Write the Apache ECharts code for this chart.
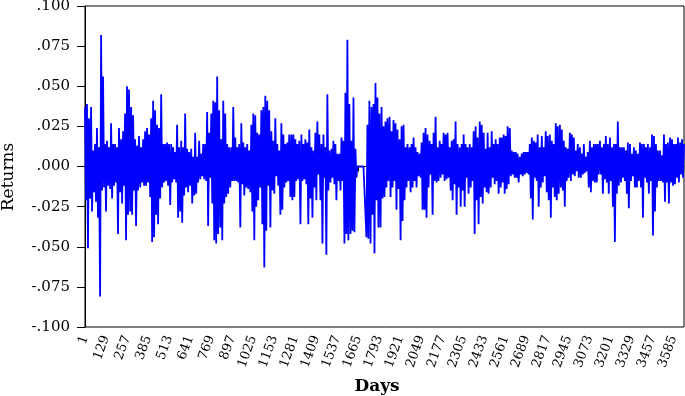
<!DOCTYPE html>
<html>
<head>
<meta charset="utf-8">
<script src="https://cdn.jsdelivr.net/npm/echarts@6/dist/echarts.min.js"></script>
<style>
  html, body { margin: 0; padding: 0; background: #fff; }
  #chart { width: 685px; height: 396px; }
</style>
</head>
<body>
<div id="chart"></div>
<script>
// Daily returns (one sample per pixel column, ~6 days apart)
const returns = [
  .037,-.021,.039,-.051,.030,-.020,.037,-.028,.010,-.016,
  .014,-.022,.024,-.032,.012,-.081,.082,-.015,.056,-.013,
  .014,-.028,.016,-.012,.012,-.014,.027,-.020,.014,-.012,
  .014,-.010,.012,-.042,.024,-.016,.017,-.023,.022,-.012,
  .033,-.046,.050,-.030,.048,-.028,.037,-.030,.032,-.015,
  .017,-.037,.013,-.015,.019,-.013,.012,-.010,.017,-.012,
  .022,-.012,.024,-.010,.020,-.019,.030,-.047,.041,-.044,
  .035,-.030,.026,-.036,.024,-.020,.045,-.013,.014,-.010,
  .014,-.009,.015,-.012,.014,-.024,.014,-.010,.012,-.008,
  .009,-.010,.026,-.032,.012,-.028,.016,-.035,.012,-.018,
  .033,-.013,.011,-.016,.009,-.012,.011,-.023,.006,-.018,
  .021,-.017,.006,-.010,.016,-.008,.008,-.006,.014,-.008,
  .014,-.009,.034,-.037,.021,-.007,.033,-.023,.041,-.046,
  .040,-.048,.056,-.042,.035,-.038,.017,-.046,.041,-.023,
  .033,-.019,.014,-.017,.012,-.013,.012,-.009,.037,-.009,
  .018,-.009,.012,-.010,.014,-.038,.027,-.011,.015,-.018,
  .012,-.013,.014,-.014,.010,-.016,.026,-.028,.033,-.046,
  .032,-.025,.021,-.021,.020,-.013,.035,-.036,.037,-.063,
  .044,-.040,.041,-.012,.035,-.038,.022,-.015,.016,-.017,
  .030,-.006,.014,-.012,.010,-.030,.027,-.027,.020,-.013,
  .014,-.010,.015,-.009,.020,-.019,.020,-.021,.020,-.019,
  .017,-.009,.014,-.008,.016,-.036,.020,-.009,.014,-.008,
  .017,-.011,.015,-.036,.023,-.020,.012,-.032,.010,-.013,
  .021,-.021,.028,-.005,.020,-.021,.014,-.048,.020,-.007,
  .012,-.055,.045,-.015,.010,-.010,.011,-.007,.016,-.011,
  .014,-.021,.008,-.009,.008,-.015,.018,-.009,.016,-.048,
  .046,-.042,.079,-.046,.039,-.042,.016,-.040,.043,-.041,
  .011,-.007,0,0,0,0,0,0,0,0,
  0,-.044,.026,-.045,.041,-.048,.037,-.030,.039,-.054,
  .052,-.021,.043,-.038,.033,-.038,.037,-.020,.025,-.019,
  .028,-.013,.030,-.009,.031,-.019,.022,-.013,.029,-.009,
  .027,-.027,.023,-.014,.017,-.046,.025,-.034,.026,-.021,
  .012,-.013,.014,-.009,.012,-.016,.014,-.013,.018,-.009,
  .012,-.013,.009,-.006,.008,-.007,.015,-.027,.021,-.027,
  .024,-.032,.020,-.013,.016,-.005,.014,-.030,.021,-.009,
  .031,-.010,.012,-.009,.016,-.007,.014,-.005,.021,-.009,
  .020,-.008,.021,-.007,.012,-.015,.016,-.021,.017,-.011,
  .028,-.030,.014,-.013,.012,-.025,.014,-.015,.020,-.025,
  .014,-.007,.012,-.017,.014,-.013,.012,-.009,.022,-.042,
  .025,-.021,.018,-.036,.028,-.019,.026,-.023,.021,-.013,
  .011,-.016,.021,-.017,.012,-.013,.022,-.007,.014,-.011,
  .017,-.009,.014,-.017,.018,-.013,.018,-.010,.020,-.017,
  .019,-.014,.025,-.011,.024,-.006,.010,-.005,.009,-.007,
  .009,-.007,.008,-.010,.006,-.005,.008,-.006,.009,-.005,
  .009,-.004,.009,-.005,.014,-.020,.018,-.033,.016,-.007,
  .015,-.009,.020,-.025,.012,-.013,.019,-.010,.012,-.006,
  .022,-.016,.019,-.021,.020,-.032,.016,-.013,.014,-.019,
  .027,-.021,.025,-.017,.026,-.013,.023,-.015,.016,-.025,
  .012,-.009,.011,-.007,.021,-.009,.020,-.005,.018,-.006,
  .010,-.003,.014,-.007,.012,-.007,.008,-.005,.014,-.004,
  .006,-.003,.009,-.013,.016,-.016,.012,-.009,.014,-.010,
  .014,-.010,.014,-.005,.016,-.005,.012,-.017,.014,-.008,
  .019,-.010,.014,-.017,.018,-.009,.012,-.025,.014,-.047,
  .014,-.017,.028,-.012,.012,-.010,.012,-.007,.012,-.009,
  .010,-.017,.015,-.026,.014,-.009,.008,-.006,.012,-.013,
  .010,-.013,.008,-.009,.015,-.013,.014,-.032,.014,-.007,
  .012,-.010,.014,-.017,.012,-.009,.020,-.043,.019,-.028,
  .014,-.013,.010,-.009,.010,-.009,.007,-.010,.020,-.022,
  .014,-.010,.015,-.023,.018,-.010,.017,-.012,.014,-.011,
  .014,-.007,.018,-.010,.015,-.005,.017,-.007,.014
];
const lastDay = 3648;          // zero-based day at the right edge of the frame
const xTickStep = 64;          // tick spacing (days); labels every 128 days
const xLabelStep = 128;
const yTicks = [-0.1, 0.1, 0.025]; // min, max, step
const xTitle = 'Days';
const yTitle = 'Returns';

const points = returns.map((v, i) => [Math.round(i * lastDay / (returns.length - 1)), v]);

const serif = 'DejaVu Serif';
const chart = echarts.init(document.getElementById('chart'), null, { renderer: 'canvas' });
chart.setOption({
  animation: false,
  backgroundColor: '#ffffff',
  grid: {
    left: 85, right: 1, top: 6, bottom: 69,
    outerBoundsMode: 'none',
    containLabel: false,
    show: true, borderColor: '#000', borderWidth: 1, backgroundColor: 'transparent'
  },
  graphic: [
    {
      type: 'text', x: 9, y: 177, rotation: Math.PI / 2,
      style: { text: yTitle, font: '17px "DejaVu Serif"', fill: '#000', textAlign: 'center', textVerticalAlign: 'middle' }
    },
    {
      type: 'text', x: 377, y: 387,
      style: { text: xTitle, font: 'bold 17px "DejaVu Serif"', fill: '#000', textAlign: 'center', textVerticalAlign: 'middle' }
    }
  ],
  xAxis: {
    type: 'value',
    min: 0, max: lastDay, interval: xTickStep,
    axisLine: { show: true, lineStyle: { color: '#000', width: 1 } },
    axisTick: { show: true, inside: false, length: 5, lineStyle: { color: '#000' } },
    splitLine: { show: false },
    axisLabel: {
      rotate: 70,
      margin: 9,
      fontFamily: serif,
      fontSize: 13,
      color: '#000',
      showMaxLabel: false,
      formatter: v => (Math.round(v) % xLabelStep === 0 ? String(Math.round(v) + 1) : '')
    }
  },
  yAxis: {
    type: 'value',
    min: yTicks[0], max: yTicks[1], interval: yTicks[2],
    axisLine: { show: true, lineStyle: { color: '#000', width: 1 } },
    axisTick: { show: true, inside: false, length: 8, lineStyle: { color: '#000' } },
    splitLine: { show: false },
    axisLabel: {
      margin: 15,
      fontFamily: serif,
      fontSize: 15,
      color: '#000',
      formatter: v => {
        const s = Math.abs(v).toFixed(3).replace(/^0/, '');
        return (v < -1e-9 ? '-' : '') + s;
      }
    }
  },
  series: [{
    type: 'line',
    data: points,
    showSymbol: false,
    symbol: 'none',
    sampling: null,
    lineStyle: { color: '#0000ff', width: 1.8 },
    emphasis: { disabled: true }
  }]
});
</script>
</body>
</html>
